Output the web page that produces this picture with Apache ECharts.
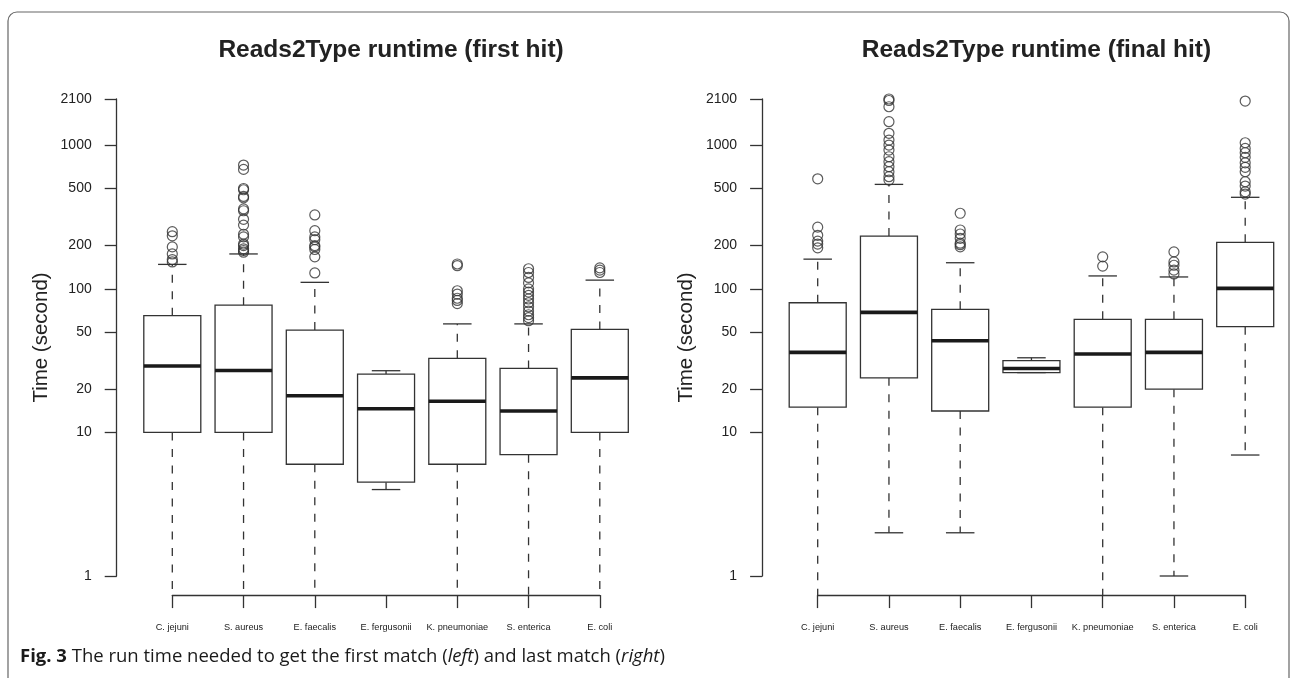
<!DOCTYPE html>
<html>
<head>
<meta charset="utf-8">
<style>
  html, body { margin: 0; padding: 0; background: #fff; }
  #chart { width: 1293px; height: 678px; }
</style>
<script src="https://cdn.jsdelivr.net/npm/echarts@6/dist/echarts.min.js"></script>
</head>
<body>
<div id="chart"></div>
<script>
// ---------- data ----------
const categories = ['C. jejuni', 'S. aureus', 'E. faecalis', 'E. fergusonii', 'K. pneumoniae', 'S. enterica', 'E. coli'];
const yTicks = [1, 10, 20, 50, 100, 200, 500, 1000, 2100];
const yMin = 1;
const yMax = 2100;

// first hit (left panel); a lower whisker of 0 runs off the bottom of the log axis
const firstLow    = [0, 0, 0, 4.0, 0, 0, 0];
const firstQ1     = [10, 10, 6.0, 4.5, 6.0, 7.0, 10];
const firstMedian = [29, 27, 18, 14.6, 16.5, 14.1, 24];
const firstQ3     = [65, 77, 51.6, 25.5, 32.8, 27.9, 52.2];
const firstHigh   = [148, 175, 111, 26.9, 57, 57, 115];
const firstOutliers = [
  [154, 160, 175, 196, 234, 250],
  [180, 185, 190, 200, 205, 230, 240, 278, 305, 350, 360, 430, 440, 490, 500, 679, 728],
  [129, 167, 188, 196, 200, 220, 230, 254, 327],
  [],
  [79, 83, 86, 92, 97, 145, 149],
  [60, 63, 66, 70, 75, 80, 85, 90, 95, 100, 110, 120, 130, 138],
  [130, 135, 140]
];

// final hit (right panel)
const finalLow    = [0, 2.0, 2.0, 26.1, 0, 1.0, 6.96];
const finalQ1     = [15.0, 24.0, 14.1, 26.1, 15.0, 20.0, 54.5];
const finalMedian = [36.1, 68.6, 43.5, 27.9, 35.2, 36.1, 100.8];
const finalQ3     = [80, 233, 72, 31.6, 61.3, 61.3, 211];
const finalHigh   = [161, 534, 152, 33.1, 123, 121, 434];
const finalOutliers = [
  [193, 205, 215, 236, 269, 584],
  [572, 604, 654, 709, 768, 832, 926, 1003, 1087, 1211, 1459, 1855, 2050, 2100],
  [196, 203, 208, 225, 241, 257, 336],
  [],
  [144, 167],
  [127, 135, 146, 154, 181],
  [457, 474, 520, 557, 654, 702, 755, 824, 887, 951, 1041, 2032]
];

const titles = ['Reads2Type runtime (first hit)', 'Reads2Type runtime (final hit)'];
const yName = 'Time (second)';

// ---------- layout ----------
const FONT = '"Liberation Sans", Arial, Helvetica, sans-serif';
const CAPFONT = '"Open Sans", "Noto Sans", sans-serif';
const INK = '#222';
const LINE = '#333';
const gridTop = 99, gridHeight = 477;
const gridLefts = [172.3, 817.7];
const gridWidth = 427.5;
const xOffset = gridHeight * 0.04;         // R's 4% axis extension
const yFloor = Math.pow(yMax, -0.04);       // bottom edge of the plot region in data units
const yAxisOffset = 55.6;

function boxData(low, q1, med, q3, high) {
  return categories.map((c, i) => [i, low[i], q1[i], med[i], q3[i], high[i]]);
}
function outlierData(outs) {
  const res = [];
  outs.forEach((arr, i) => arr.forEach(v => res.push([i, v])));
  return res;
}

function renderBox(params, api) {
  const i = api.value(0);
  const low = api.value(1), q1 = api.value(2), med = api.value(3), q3 = api.value(4), high = api.value(5);
  const band = api.size([1, 1])[0];
  const hb = band * 0.4, hc = band * 0.2;
  const x = api.coord([i, med])[0];
  const y = v => api.coord([i, v])[1];
  const yq1 = y(q1), yq3 = y(q3), ym = y(med), yh = y(high);
  const yl = low > 0 ? y(low) : y(yFloor);
  const solid = { stroke: LINE, lineWidth: 1.3, fill: null };
  const dashed = { stroke: LINE, lineWidth: 1.3, lineDash: [8, 8.5] };
  const children = [
    { type: 'line', shape: { x1: x, y1: yq3, x2: x, y2: yh }, style: dashed },
    { type: 'line', shape: { x1: x, y1: yq1, x2: x, y2: yl }, style: dashed },
    { type: 'line', shape: { x1: x - hc, y1: yh, x2: x + hc, y2: yh }, style: solid },
    { type: 'rect', shape: { x: x - hb, y: yq3, width: hb * 2, height: yq1 - yq3 }, style: { stroke: LINE, lineWidth: 1.3, fill: '#fff' } },
    { type: 'line', shape: { x1: x - hb, y1: ym, x2: x + hb, y2: ym }, style: { stroke: '#1a1a1a', lineWidth: 3.6 } }
  ];
  if (low > 0) {
    children.push({ type: 'line', shape: { x1: x - hc, y1: yl, x2: x + hc, y2: yl }, style: solid });
  }
  return { type: 'group', children };
}

const panels = [
  { low: firstLow, q1: firstQ1, med: firstMedian, q3: firstQ3, high: firstHigh, outs: firstOutliers },
  { low: finalLow, q1: finalQ1, med: finalMedian, q3: finalQ3, high: finalHigh, outs: finalOutliers }
];

const option = {
  backgroundColor: '#fff',
  animation: false,
  textStyle: { fontFamily: FONT, color: INK },
  title: titles.map((t, k) => ({
    text: t,
    left: gridLefts[k] + gridWidth / 2,
    textAlign: 'center',
    top: 33,
    textStyle: { fontFamily: FONT, fontSize: 24.5, fontWeight: 'bold', color: INK }
  })),
  grid: gridLefts.map(l => ({ left: l, top: gridTop, width: gridWidth, height: gridHeight, containLabel: false })),
  xAxis: [0, 1].map(k => ({
    type: 'category',
    gridIndex: k,
    data: categories,
    boundaryGap: false,
    offset: xOffset,
    axisLine: { show: true, lineStyle: { color: LINE, width: 1.3 } },
    axisTick: { show: true, length: 13, inside: false, lineStyle: { color: LINE, width: 1.3 } },
    axisLabel: { interval: 0, fontSize: 9.2, color: INK, fontFamily: FONT, margin: 28 },
    splitLine: { show: false }
  })),
  yAxis: [0, 1].map(k => ({
    type: 'log',
    logBase: 10,
    gridIndex: k,
    min: yMin,
    max: yMax,
    offset: yAxisOffset,
    name: yName,
    nameLocation: 'middle',
    nameGap: 65,
    nameTextStyle: { fontSize: 20.5, color: INK, fontFamily: FONT },
    axisLine: { show: true, lineStyle: { color: LINE, width: 1.3 } },
    axisTick: { show: true, length: 12, customValues: yTicks, lineStyle: { color: LINE, width: 1.3 } },
    axisLabel: { customValues: yTicks, fontSize: 14, color: INK, fontFamily: FONT, margin: 25,
                 formatter: v => String(Math.round(v)) },
    splitLine: { show: false }
  })),
  series: []
};

panels.forEach((p, k) => {
  option.series.push({
    type: 'custom',
    xAxisIndex: k, yAxisIndex: k,
    renderItem: renderBox,
    encode: { x: 0, y: [1, 2, 3, 4, 5] },
    data: boxData(p.low, p.q1, p.med, p.q3, p.high),
    z: 2
  });
  option.series.push({
    type: 'scatter',
    xAxisIndex: k, yAxisIndex: k,
    symbol: 'circle',
    symbolSize: 10,
    itemStyle: { color: 'rgba(255,255,255,0)', borderColor: LINE, borderWidth: 1.2 },
    data: outlierData(p.outs),
    z: 3
  });
});

option.graphic = [
  { type: 'rect', shape: { x: 8, y: 12, width: 1281, height: 720, r: 9 },
    style: { fill: null, stroke: '#666', lineWidth: 1.2 }, silent: true },
  { type: 'text', x: 20, y: 657,
    style: {
      text: '{b|Fig. 3} The run time needed to get the first match ({i|left}) and last match ({i|right})',
      fontFamily: CAPFONT, fontSize: 18.5, fill: '#1a1a1a',
      verticalAlign: 'middle',
      rich: {
        b: { fontWeight: 'bold', fontFamily: CAPFONT, fontSize: 18.5, fill: '#1a1a1a' },
        i: { fontStyle: 'italic', fontFamily: CAPFONT, fontSize: 18.5, fill: '#1a1a1a' }
      }
    }
  }
];

const chart = echarts.init(document.getElementById('chart'), null, { renderer: 'canvas' });
chart.setOption(option);
</script>
</body>
</html>
